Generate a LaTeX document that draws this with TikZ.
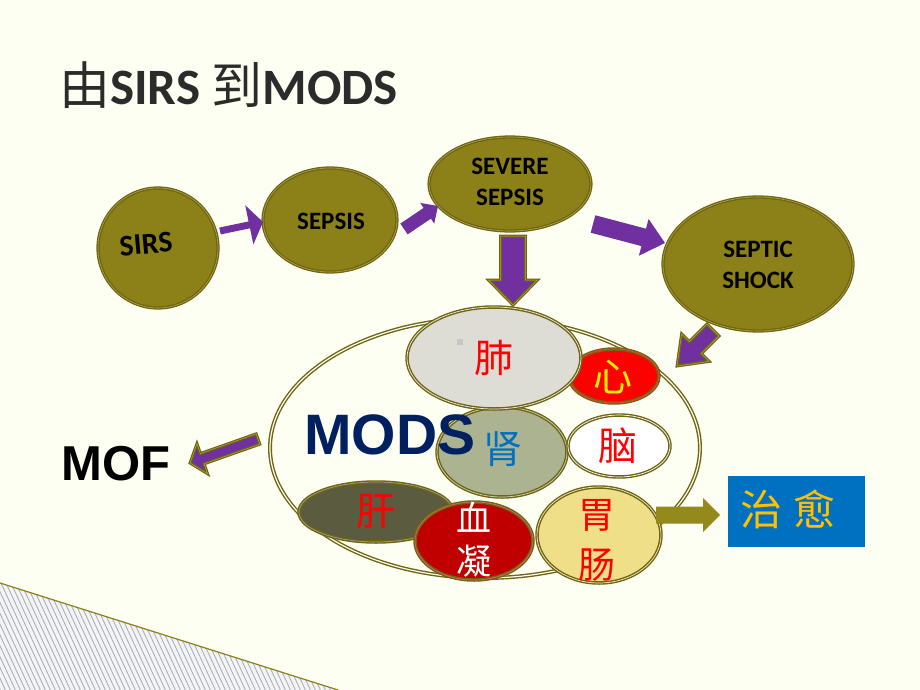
\documentclass[tikz,border=0pt]{standalone}
\usepackage{fontspec}
\setmainfont{Carlito}
\newfontfamily\cjk{Noto Sans CJK SC}
\newfontfamily\arialf{Liberation Sans}
\usetikzlibrary{shapes.geometric,calc}
\definecolor{bg}{HTML}{FEFFF3}
\definecolor{olv}{HTML}{8C8018}
\definecolor{olvD}{HTML}{6E6412}
\definecolor{olvL}{HTML}{B0A548}
\definecolor{pur}{HTML}{7030A0}
\definecolor{navy}{HTML}{002060}
\definecolor{blu}{HTML}{0070C0}
\definecolor{gold}{HTML}{FFC000}
\definecolor{garw}{HTML}{948A1C}
\definecolor{lung}{HTML}{DDDDD5}
\definecolor{kidney}{HTML}{ABB391}
\definecolor{liver}{HTML}{5B5B40}
\definecolor{blood}{HTML}{C00000}
\definecolor{gut}{HTML}{EEDF88}
\definecolor{hatchbg}{HTML}{F3F4F6}
\definecolor{hatchln}{HTML}{A8A8B0}
\definecolor{ttl}{HTML}{2B2B2B}
\newcommand\blockarr[6]{%
  \coordinate (bah) at ($(#2)!#5!(#1)$);
  \path[#6] ($(#1)!#3!90:(#2)$) -- ($(bah)!#3!90:(#2)$) -- ($(bah)!#4!90:(#2)$) -- (#2)
    -- ($(bah)!#4!-90:(#2)$) -- ($(bah)!#3!-90:(#2)$) -- ($(#1)!#3!-90:(#2)$) -- cycle;}
\tikzset{
  stage/.style={ellipse, fill=olv, draw=olvD, double=olvL, double distance=0.6pt,
    line width=1.3pt, inner sep=0pt},
  stagetext/.style={inner sep=0pt, font=\fontsize{25}{31}\selectfont\bfseries, align=center},
  organ/.style={ellipse, draw=olvD, double=#1, double distance=0.7pt,
    line width=1.4pt, inner sep=0pt},
  organ/.default=white,
  otext/.style={inner sep=0pt, align=center, font=\cjk\fontsize{39}{43}\selectfont},
  pA/.style={fill=pur},
  pAb/.style={fill=pur, draw=olvD, double=olvL, double distance=0.5pt, line width=1.2pt},
  gA/.style={fill=garw}
}
\begin{document}
\begin{tikzpicture}[x=1pt,y=-1pt]
\useasboundingbox (0,0) rectangle (920,690);
\fill[bg] (0,0) rectangle (920,690);
% hatched corner
\begin{scope}
  \clip (0,583) -- (338,690) -- (0,690) -- cycle;
  \fill[hatchbg] (0,583) rectangle (340,690);
  \foreach \i in {-80,-75,...,340} \draw[hatchln, line width=0.8pt] (\i,570) -- (\i+60,700);
\end{scope}
\draw[olv, line width=1.2pt] (0,583) -- (338,690);

% title
\node[anchor=base west, inner sep=0pt, text=ttl, font=\fontsize{51}{58}\selectfont\bfseries] (title) at (59,105)
  {{\cjk\mdseries 由}SIRS {\cjk\mdseries 到}MODS};

% stage nodes
\node[stage, minimum width=120pt, minimum height=120pt] (sirs) at (158,248) {};
\node[stagetext, rotate=5, font=\fontsize{30}{34}\selectfont\bfseries] (sirsT) at (146,244) {SIRS};
\node[stage, minimum width=134pt, minimum height=104pt] (sepsis) at (330,220) {};
\node[stagetext] (sepsisT) at (331,221) {SEPSIS};
\node[stage, minimum width=162pt, minimum height=94pt] (severe) at (510,184) {};
\node[stagetext] (severeT) at (510,182) {SEVERE\\SEPSIS};
\node[stage, minimum width=190pt, minimum height=134pt] (shock) at (758,264) {};
\node[stagetext] (shockT) at (758,265) {SEPTIC\\SHOCK};

% MODS big ellipse
\node[ellipse, minimum width=430pt, minimum height=260pt, draw=olvD, double=bg,
  double distance=1.2pt, line width=1.4pt] (mods) at (485,448) {};

% organs
\node[organ=red!75!white, fill=red, minimum width=90pt, minimum height=54pt] (heart) at (614,376) {};
\node[otext, text=yellow] (heartT) at (613,377) {心};
\node[organ=kidney!60!white, fill=kidney, minimum width=130pt, minimum height=90pt] (kidney) at (502,452) {};
\node[otext, text=blu] (kidneyT) at (503,449) {肾};
\node[organ=lung!60!white, fill=lung, minimum width=174pt, minimum height=102pt] (lung) at (494,358) {};
\node[otext, text=red] (lungT) at (494,358) {肺};
\fill[gray!45] (457,339) rectangle (463,345);
\node[organ=white, fill=white, minimum width=102pt, minimum height=62pt] (brain) at (619,446) {};
\node[otext, text=red] (brainT) at (618,446) {脑};
\node[organ=liver!60!white, fill=liver, minimum width=154pt, minimum height=60pt] (liver) at (376,512) {};
\node[otext, text=red] (liverT) at (376,511) {肝};
\node[organ=blood!60!white, fill=blood, minimum width=118pt, minimum height=78pt] (blood) at (474,541) {};
\node[otext, text=white, font=\cjk\fontsize{35}{43}\selectfont] (bloodT) at (474,540) {血\\凝};
\node[organ=gut!60!white, fill=gut, minimum width=124pt, minimum height=96pt] (gut) at (599,535) {};
\node[otext, text=red, font=\cjk\fontsize{37}{50}\selectfont] (gutT) at (597,540) {胃\\肠};

% texts
\node[anchor=base west, inner sep=0pt, text=navy, font=\arialf\bfseries\fontsize{57}{60}\selectfont] (modsT) at (304,454) {MODS};
\node[anchor=base west, inner sep=0pt, text=black, font=\arialf\bfseries\fontsize{49}{52}\selectfont] (mof) at (61,480) {MOF};

% cure box
\node[fill=blu, minimum width=137pt, minimum height=71pt, inner sep=0pt] (cure) at (796.5,511.5) {};
\node[inner sep=0pt, text=gold, font=\cjk\fontsize{42}{46}\selectfont] (cureT) at (788,509) {治\hspace{12pt}愈};

% arrows
\coordinate (a1s) at (220,231); \coordinate (a1e) at (263,222);
\coordinate (a2s) at (404,229); \coordinate (a2e) at (438,206);
\coordinate (a3s) at (593,224); \coordinate (a3e) at (665,243);
\coordinate (a4s) at (513,236); \coordinate (a4e) at (513,305);
\coordinate (a5s) at (713,330); \coordinate (a5e) at (677,366);
\coordinate (a6s) at (258,439); \coordinate (a6e) at (190,463);
\coordinate (a7s) at (656,515); \coordinate (a7e) at (720,515);
\blockarr{a1s}{a1e}{3.5pt}{20pt}{14pt}{pA}
\blockarr{a2s}{a2e}{6.5pt}{12.5pt}{13pt}{pA}
\blockarr{a3s}{a3e}{9pt}{19pt}{22pt}{pA}
\blockarr{a4s}{a4e}{12.5pt}{24.5pt}{25pt}{pAb}
\blockarr{a5s}{a5e}{8.5pt}{19.5pt}{26pt}{pAb}
\blockarr{a6s}{a6e}{5.5pt}{16pt}{13pt}{pAb}
\blockarr{a7s}{a7e}{8.5pt}{17pt}{17pt}{gA}
\end{tikzpicture}
\end{document}
